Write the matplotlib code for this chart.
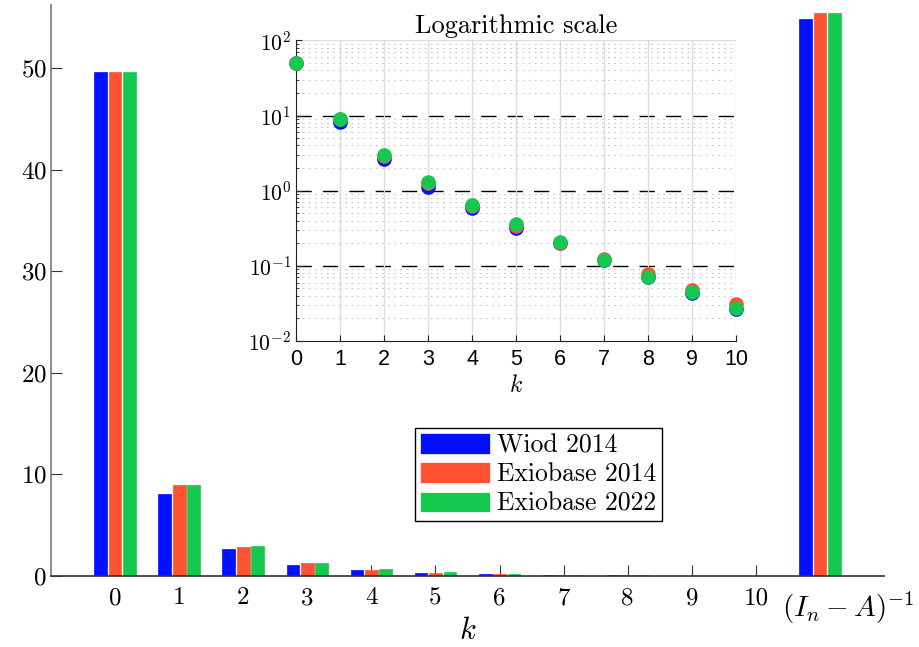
import numpy as np
import matplotlib
matplotlib.use("Agg")
import matplotlib.pyplot as plt

plt.rcParams['font.family'] = 'serif'
plt.rcParams['font.serif'] = ['cmr10']
plt.rcParams['mathtext.fontset'] = 'cm'
plt.rcParams['mathtext.rm'] = 'Liberation Sans'
plt.rcParams['axes.formatter.use_mathtext'] = True

# values
k = np.arange(11)
series = ['Wiod 2014', 'Exiobase 2014', 'Exiobase 2022']
wiod = [49.6, 8.1, 2.65, 1.13, 0.595, 0.32, 0.2, 0.118, 0.072, 0.044, 0.027]
exio14 = [49.6, 9.0, 2.9, 1.25, 0.63, 0.34, 0.2, 0.122, 0.078, 0.048, 0.031]
exio22 = [49.6, 9.0, 2.95, 1.3, 0.65, 0.355, 0.205, 0.12, 0.0715, 0.0443, 0.0275]
inverse = [54.8, 55.4, 55.4]
xlabels = [str(i) for i in k] + [r'$(I_n - A)^{-1}$']
colors = ['#0010ff', '#ff5233', '#15c850']

fig = plt.figure(figsize=(9.19, 6.47), dpi=100)
ax = fig.add_axes([0.0555, 0.1097, 0.9065, 0.8825])

pos = np.arange(12)
for i, (vals, c, name) in enumerate(zip([wiod, exio14, exio22], colors, series)):
    h = list(vals) + [inverse[i]]
    ax.bar(pos + (i - 1) * 0.225, h, width=0.2, color=c, edgecolor=c,
           linewidth=0.5, label=name, zorder=2)

ax.set_xlim(-1, 12)
ax.set_ylim(0, 56.2)
ax.set_xticks(pos)
ax.set_xticklabels(xlabels[:-1] + [''], fontsize=18)
# last label drawn on its own: larger and shifted right, as in the original
ax.annotate(xlabels[-1], xy=(pos[-1], 0), xycoords=('data', 'axes fraction'),
            xytext=(20, -10), textcoords='offset points', ha='center', va='top',
            fontsize=21)
ax.set_yticks([0, 10, 20, 30, 40, 50])
ax.tick_params(axis='y', labelsize=18, direction='in', length=8, color='#333333', pad=3)
ax.tick_params(axis='x', direction='in', length=8, color='#333333', pad=8)
for s in ['top', 'right']:
    ax.spines[s].set_visible(False)
ax.spines['left'].set_color('#777777')
ax.spines['bottom'].set_color('#333333')
ax.spines['left'].set_linewidth(1.2)
ax.spines['bottom'].set_linewidth(1.2)
ax.set_xlabel(r'$k$', fontsize=22)
ax.xaxis.set_label_coords(0.5, -0.072)

leg = ax.legend(loc='upper left', bbox_to_anchor=(0.4516, 0.3385),
                bbox_transform=fig.transFigure, borderaxespad=0, fontsize=18.5,
                fancybox=False, edgecolor='black', framealpha=1,
                handlelength=2.7, handleheight=0.85, handletextpad=0.3,
                labelspacing=0.2, borderpad=0.2)
leg.get_frame().set_linewidth(1.0)
for p in leg.get_patches():
    p.set_edgecolor('white')

# inset, log scale
ins = fig.add_axes([0.3221, 0.473, 0.4788, 0.4645])
for vals, c in zip([wiod, exio14, exio22], colors):
    ins.plot(k, vals, 'o', color=c, markersize=9.5, zorder=3, clip_on=False)
ins.set_yscale('log')
ins.set_xlim(0, 10)
ins.set_ylim(1e-2, 1e2)
ins.set_xticks(k)
ins.set_xticklabels([str(i) for i in k], fontfamily='Liberation Sans', fontsize=15.5)
ins.set_yticks([1e-2, 1e-1, 1e0, 1e1, 1e2])
ylabs = ins.set_yticklabels([r'$\mathregular{10^{%d}}$' % e for e in [-2, -1, 0, 1, 2]],
                            fontsize=15.5)
for t in ylabs:
    t.set_math_fontfamily('custom')
ins.grid(True, axis='x', which='major', color='#dddddd', linewidth=1.0, zorder=0)
ins.grid(True, axis='y', which='minor', color='#c8c8c8', linestyle=(0, (1.5, 4)),
         linewidth=0.8, zorder=0)
for e in [1e1, 1e0, 1e-1]:
    ins.axhline(e, color='black', linestyle=(0, (11, 8)), linewidth=1.0, zorder=1)
ins.axhline(1e2, color='#dddddd', linewidth=1.0, zorder=0)
ins.tick_params(axis='both', which='major', direction='in', length=4, color='#222222')
ins.tick_params(axis='x', pad=6)
ins.tick_params(axis='y', which='minor', direction='in', length=2.5, color='#222222')
ins.tick_params(axis='y', which='minor', labelleft=False)
for s in ['top', 'right']:
    ins.spines[s].set_visible(False)
ins.spines['left'].set_color('#222222')
ins.spines['bottom'].set_color('#222222')
ins.set_title('Logarithmic scale', fontsize=19, pad=5)
ins.set_xlabel(r'$k$', fontsize=17, labelpad=3)

fig.savefig('out.png', dpi=100)
